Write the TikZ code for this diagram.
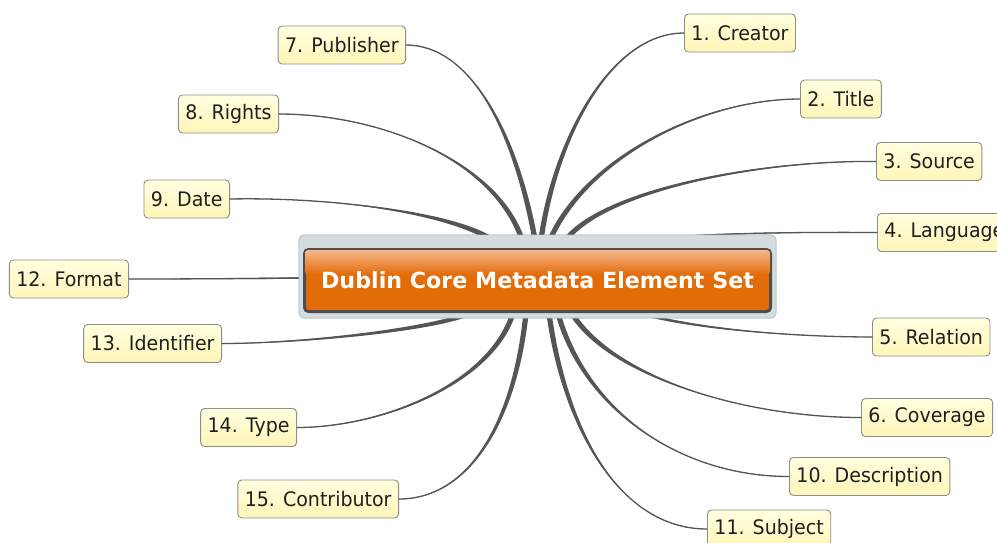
\documentclass[tikz,border=0pt]{standalone}
\usepackage{fontspec}
\setmainfont{DejaVu Sans}
\newfontfamily\leaffont[FakeStretch=0.95]{DejaVu Sans}
\usetikzlibrary{calc}

\definecolor{wirecol}{HTML}{555555}
\definecolor{leafline}{HTML}{8E8E86}
\definecolor{leaftop}{HTML}{FFFFE0}
\definecolor{leafbot}{HTML}{FFF5B8}
\definecolor{frameback}{HTML}{D4DCDF}
\definecolor{frameline}{HTML}{BAC4C8}
\definecolor{coreline}{HTML}{4E4E4E}
\definecolor{coretop}{HTML}{F4B78C}
\definecolor{corebot}{HTML}{E36C09}

% tapered connector: #1 start coordinate, #2 first control, #3 second control,
% #4 end anchor, #5 half-width vector at the start, #6 offset at the second control
\newcommand\spoke[6]{%
  \fill[wirecol] ($(#1)+(#5)$) .. controls ($(#2)+0.9*(#5)$) and ($(#3)+(#6)$) .. (#4)
    .. controls ($(#3)-(#6)$) and ($(#2)-0.9*(#5)$) .. ($(#1)-(#5)$) -- cycle;
  \draw[wire] (#1) .. controls (#2) and (#3) .. (#4);
}

\begin{document}
\begin{tikzpicture}[x=1pt,y=-1pt,
  wire/.style={draw=wirecol,line width=1.3pt,line cap=round},
  leaf/.style={draw=leafline,line width=0.9pt,rounded corners=4pt,
    top color=leaftop,bottom color=leafbot,minimum height=38pt,
    inner xsep=7pt,text=black!88,font=\leaffont\fontsize{20}{24}\selectfont},
  hubframe/.style={fill=frameback,draw=frameline,line width=0.8pt,
    rounded corners=5pt,minimum width=477pt,minimum height=83pt,inner sep=0pt},
  hubcore/.style={draw=coreline,line width=3pt,rounded corners=4pt,
    fill=corebot,minimum width=466pt,minimum height=62pt,inner sep=0pt},
  hubtext/.style={text=white,inner sep=0pt,
    font=\bfseries\fontsize{22.2}{26}\selectfont}]

\useasboundingbox (0,0) rectangle (997,542);
\fill[white] (0,0) rectangle (997,542);

% leaves on the right
\node[leaf,anchor=west] (creator)     at (684,33)    {1. Creator};
\node[leaf,anchor=west] (title)       at (800,99)    {2. Title};
\node[leaf,anchor=west] (source)      at (876,161.5) {3. Source};
\node[leaf,anchor=west] (language)    at (877,232.5) {4. Language};
\node[leaf,anchor=west] (relation)    at (872,337)   {5. Relation};
\node[leaf,anchor=west] (coverage)    at (861,417.5) {6. Coverage};
\node[leaf,anchor=west] (description) at (789,476.5) {10. Description};
\node[leaf,anchor=west] (subject)     at (707,529)   {11. Subject};
% leaves on the left
\node[leaf,anchor=east] (publisher)   at (406,45)    {7. Publisher};
\node[leaf,anchor=east] (rights)      at (279,114)   {8. Rights};
\node[leaf,anchor=east] (date)        at (230,199)   {9. Date};
\node[leaf,anchor=east] (format)      at (129,279)   {12. Format};
\node[leaf,anchor=east] (identifier)  at (222,343.5) {13. Identifier};
\node[leaf,anchor=east] (type)        at (297,427.5) {14. Type};
\node[leaf,anchor=east] (contributor) at (399,499)   {15. Contributor};

% central topic frame (placed first so the spokes can start from it)
\node[hubframe] (hub) at (537.5,276.5) {};

% spoke roots, hidden under the central topic
\coordinate (sDate)   at ($(hub.north)+(-45.5,5)$);
\coordinate (sRights) at ($(hub.north)+(-15.5,5)$);
\coordinate (sPub)    at ($(hub.north)+(-2.5,5)$);
\coordinate (sCre)    at ($(hub.north)+(3.5,5)$);
\coordinate (sTitle)  at ($(hub.north)+(12.5,5)$);
\coordinate (sSource) at ($(hub.north)+(28.5,5)$);
\coordinate (sLang)   at ($(hub.north)+(112.5,5)$);
\coordinate (sIdent)  at ($(hub.south)+(-67.5,-5)$);
\coordinate (sType)   at ($(hub.south)+(-24.5,-5)$);
\coordinate (sContr)  at ($(hub.south)+(-11.5,-5)$);
\coordinate (sSubj)   at ($(hub.south)+(11.5,-5)$);
\coordinate (sDesc)   at ($(hub.south)+(20.5,-5)$);
\coordinate (sCov)    at ($(hub.south)+(34.5,-5)$);
\coordinate (sRel)    at ($(hub.south)+(102.5,-5)$);
\coordinate (sFmt)    at ($(hub.west)+(6,1.5)$);

% spokes above the topic
\spoke{sDate}{448,212}{330,197}{date.east}{1.4,-2.2}{0,0.8}
\spoke{sRights}{495,160}{380,114}{rights.east}{2.5,-0.8}{0,0.9}
\spoke{sPub}{515,130}{470,45}{publisher.east}{2.6,-0.5}{0,0.9}
\spoke{sCre}{555,140}{610,33}{creator.west}{2.6,0.4}{0,0.9}
\spoke{sTitle}{585,160}{700,99}{title.west}{2.4,1.0}{0,0.9}
\spoke{sSource}{605,190}{760,160}{source.west}{2.0,1.6}{0,0.9}
\spoke{sLang}{700,233}{800,232}{language.west}{0,0.8}{0,0.2}
% spokes below the topic
\spoke{sIdent}{430,330}{300,343.5}{identifier.east}{0.9,2.1}{0,0.8}
\spoke{sType}{490,385}{380,427.5}{type.east}{2.5,0.8}{0,0.9}
\spoke{sContr}{515,420}{470,499}{contributor.east}{2.6,0.3}{0,0.9}
\spoke{sSubj}{565,430}{620,529}{subject.west}{2.6,-0.35}{0,0.9}
\spoke{sDesc}{585,410}{680,476.5}{description.west}{2.5,-0.7}{0,0.9}
\spoke{sCov}{610,375}{740,417.5}{coverage.west}{2.2,-1.4}{0,0.9}
\spoke{sRel}{700,330}{800,337}{relation.west}{0.4,-1.4}{0,0.3}
\spoke{sFmt}{250,278.5}{190,279}{format.east}{0,0.8}{0,0.2}

% central topic drawn over the spoke roots
\node[hubframe] at (hub) {};
\node[hubcore] (core) at ($(hub.center)+(0,4)$) {};
% glossy band along the top of the topic
\shade[top color=coretop,bottom color=corebot,rounded corners=3pt]
  ($(core.north west)+(2,2)$) rectangle ($(core.east)+(-2,-6)$);
\node[hubtext] (label) at (core.center) {Dublin Core Metadata Element Set};

\end{tikzpicture}
\end{document}
